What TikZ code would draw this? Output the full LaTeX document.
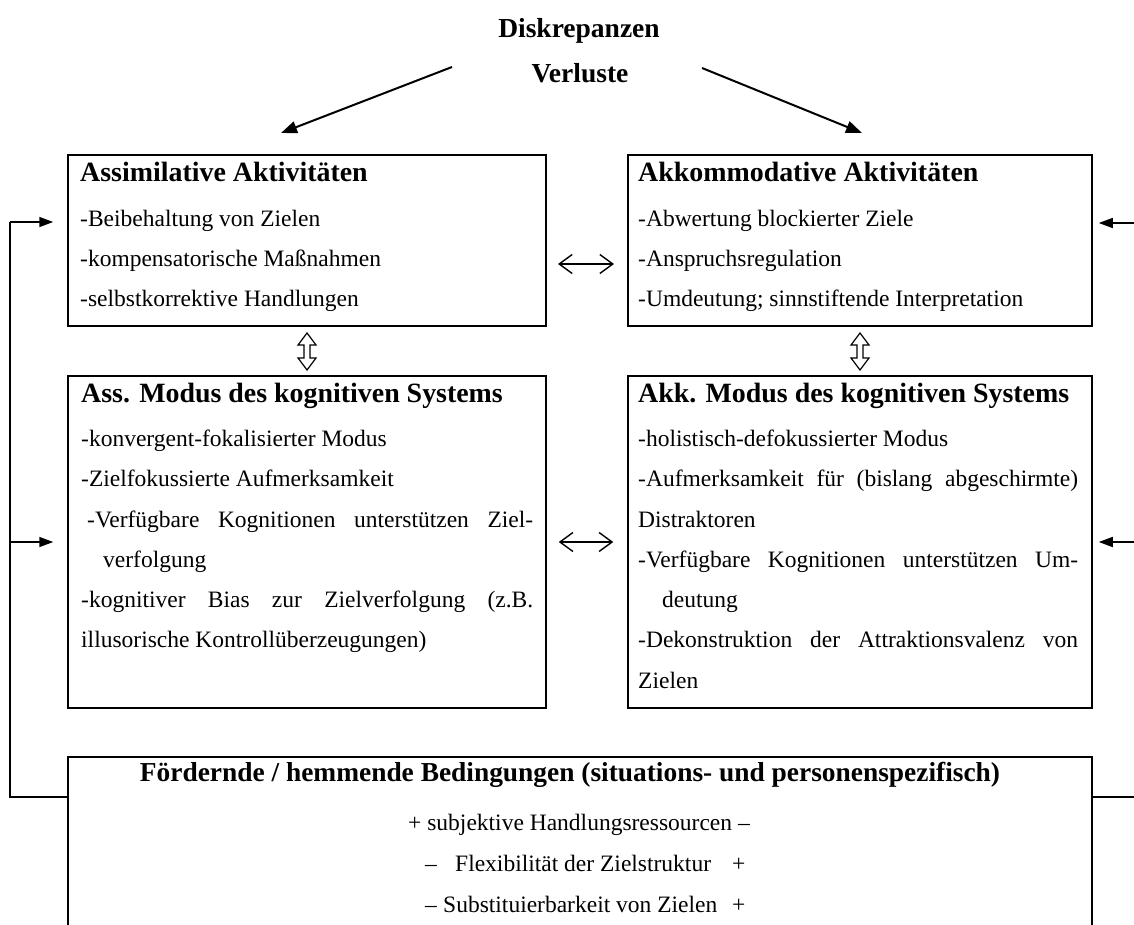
\documentclass[tikz,border=0pt]{standalone}
\usepackage{fontspec}
\setmainfont{Liberation Serif}
\usetikzlibrary{arrows.meta}
\tikzset{
  box/.style={draw, line width=1.5pt, inner sep=0pt, minimum height=#1},
  body/.style={anchor=base west, inner sep=0pt, font=\fontsize{23.5}{28}\selectfont},
  head/.style={anchor=base west, inner sep=0pt, font=\fontsize{27.9}{33}\selectfont\bfseries},
  ttl/.style={anchor=base, inner sep=0pt, font=\fontsize{27.5}{33}\selectfont\bfseries},
  bhead/.style={anchor=base, inner sep=0pt, font=\fontsize{27.4}{33}\selectfont\bfseries},
  tri/.style={line width=1.5pt, -{Triangle[length=14pt,width=10pt]}},
  dtri/.style={line width=2pt, -{Triangle[length=16pt,width=12pt]}},
  dbl/.style={line width=1.4pt, {Straight Barb[length=13pt,width=19pt]}-{Straight Barb[length=13pt,width=19pt]}},
  fb/.style={line width=1.5pt},
  udarrow/.pic={\draw[line width=1.2pt, line join=miter]
     (0,-18.5) -- (9,-6.5) -- (3,-6.5) -- (3,6.5) -- (9,6.5) -- (0,18.5)
     -- (-9,6.5) -- (-3,6.5) -- (-3,-6.5) -- (-9,-6.5) -- cycle;}
}
\begin{document}
\begin{tikzpicture}[x=1pt,y=-1pt]
\useasboundingbox (0,0) rectangle (1134,925);
\clip (0,0) rectangle (1134,925);
\fill[white] (0,0) rectangle (1134,925);

% title
\node[ttl] (disk) at (579,38) {Diskrepanzen};
\node[ttl] (verl) at (580,83) {Verluste};

% boxes
\node[box=171pt, minimum width=478pt] (tl) at (307,240.5) {};
\node[box=171pt, minimum width=464pt] (tr) at (860,240.5) {};
\node[box=332pt, minimum width=478pt] (ml) at (307,542) {};
\node[box=332pt, minimum width=464pt] (mr) at (860,542) {};
\node[box=220pt, minimum width=1024pt] (bot) at (580,867) {};

% diagonal arrows
\coordinate (d1s) at (452,67);
\coordinate (d1e) at (281,133);
\coordinate (d2s) at (702,68);
\coordinate (d2e) at (862,133);
\draw[dtri] (d1s) -- (d1e);
\draw[dtri] (d2s) -- (d2e);

% horizontal double arrows
\coordinate (h1a) at (558,264);
\coordinate (h1b) at (614,264);
\draw[dbl] (h1a) -- (h1b);
\draw[dbl, shorten <=12pt, shorten >=14pt] (ml.east) -- (mr.west);

% vertical hollow arrows
\pic at (307,351.5) {udarrow};
\pic at (860,351.5) {udarrow};

% left feedback
\coordinate (L1) at (10,222);
\coordinate (L2) at (10,542);
\coordinate (L3) at (10,797);
\draw[fb] (L1) -- (L3) -- (bot.west |- L3);
\draw[tri] (L1) -- ([xshift=-14pt]tl.west |- L1);
\draw[tri] (L2) -- ([xshift=-14pt]ml.west);

% right feedback
\coordinate (R1) at (1134,223);
\coordinate (R2) at (1134,542);
\coordinate (R3) at (1134,797);
\draw[tri] (R1) -- ([xshift=6pt]tr.east |- R1);
\draw[tri] (R2) -- ([xshift=6pt]mr.east);
\draw[fb] (bot.east |- R3) -- (R3);

% top-left box text
\node[head] (tlh) at (80,182) {Assimilative Aktivitäten};
\node[body] (tl1) at (80,227) {-Beibehaltung von Zielen};
\node[body] (tl2) at (80,266) {-kompensatorische Maßnahmen};
\node[body] (tl3) at (80,306) {-selbstkorrektive Handlungen};

% top-right box text
\node[head] (trh) at (638,182) {Akkommodative Aktivitäten};
\node[body] (tr1) at (638,227) {-Abwertung blockierter Ziele};
\node[body] (tr2) at (638,266) {-Anspruchsregulation};
\node[body] (tr3) at (638,306) {-Umdeutung; sinnstiftende Interpretation};

% middle-left box text
\node[head] (mlh) at (81,402) {Ass. Modus des kognitiven Systems};
\node[body] (ml1) at (81,446) {-konvergent-fokalisierter Modus};
\node[body] (ml2) at (81,486) {-Zielfokussierte Aufmerksamkeit};
\node[body] (ml3) at (87,527) {\makebox[446pt][s]{-Verfügbare Kognitionen unterstützen Ziel-}};
\node[body] (ml4) at (103,567) {verfolgung};
\node[body] (ml5) at (81,607) {\makebox[452pt][s]{-kognitiver Bias zur Zielverfolgung (z.B.}};
\node[body] (ml6) at (81,647) {illusorische Kontrollüberzeugungen)};

% middle-right box text
\node[head] (mrh) at (638,402) {Akk. Modus des kognitiven Systems};
\node[body] (mr1) at (638,446) {-holistisch-defokussierter Modus};
\node[body] (mr2) at (638,486) {\makebox[440pt][s]{-Aufmerksamkeit für (bislang abgeschirmte)}};
\node[body] (mr3) at (638,527) {Distraktoren};
\node[body] (mr4) at (638,567) {\makebox[440pt][s]{-Verfügbare Kognitionen unterstützen Um-}};
\node[body] (mr5) at (662,607) {deutung};
\node[body] (mr6) at (638,647) {\makebox[440pt][s]{-Dekonstruktion der Attraktionsvalenz von}};
\node[body] (mr7) at (638,688) {Zielen};

% bottom box text
\node[bhead] (bh) at (570,781) {Fördernde / hemmende Bedingungen (situations- und personenspezifisch)};
\node[body] (b1) at (408,830) {+ subjektive Handlungsressourcen –};
\node[body] (b2m) at (425,871) {–};
\node[body] (b2) at (455,871) {Flexibilität der Zielstruktur};
\node[body] (b2p) at (732,871) {+};
\node[body] (b3m) at (425,912) {–};
\node[body] (b3) at (443,912) {Substituierbarkeit von Zielen};
\node[body] (b3p) at (732,912) {+};
\end{tikzpicture}
\end{document}
